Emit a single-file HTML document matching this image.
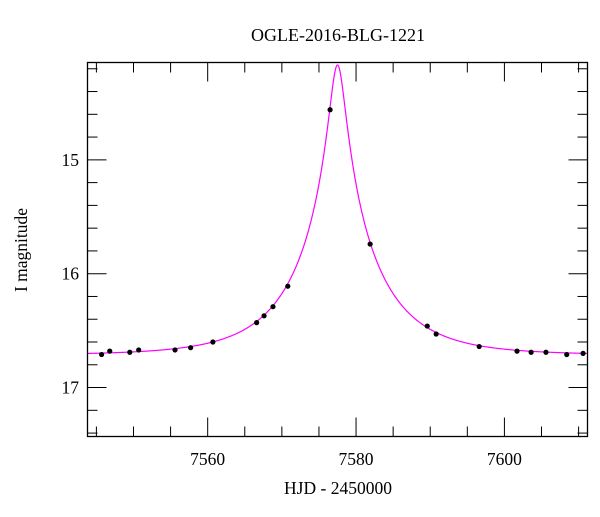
<!DOCTYPE html>
<html><head><meta charset="utf-8"><style>
html,body{margin:0;padding:0;background:#fff;}
svg text{font-family:"Liberation Serif",serif;fill:#000;}
</style></head><body>
<svg id="chart" width="600" height="512" xmlns="http://www.w3.org/2000/svg">
<text x="338" y="41" font-size="18" text-anchor="middle">OGLE-2016-BLG-1221</text>
<text x="338" y="494" font-size="17.5" text-anchor="middle">HJD - 2450000</text>
<text transform="translate(27,250) rotate(-90)" font-size="17.5" text-anchor="middle">I magnitude</text>
<g id="ticks"></g>
<g id="labels"></g>
<defs><clipPath id="clip"><rect x="87.5" y="62.5" width="500" height="374"/></clipPath></defs>
<path id="model" fill="none" stroke="#ff00ff" stroke-width="1.2" clip-path="url(#clip)"/>
<g id="points"></g>
<rect x="87.5" y="62.5" width="500" height="374" fill="none" stroke="#000" stroke-width="1.3"/>
</svg>
<script>
const obsTimes=[7545.7,7546.8,7549.5,7550.7,7555.6,7557.7,7560.7,7566.6,7567.6,7568.8,7570.8,7576.5,7581.9,7589.6,7590.8,7596.6,7601.7,7603.6,7605.6,7608.4,7610.6];
const obsMags=[16.71,16.68,16.69,16.67,16.67,16.65,16.60,16.43,16.37,16.29,16.11,14.56,15.74,16.46,16.53,16.64,16.68,16.69,16.69,16.71,16.70];
const xTickLabels=[7560,7580,7600];
const yTickLabels=[15,16,17];
const modelParams=[7577.5,0.096,10.5,16.715]; // t0, u0, tE, baseline mag

const NS="http://www.w3.org/2000/svg";
const x0=7543.8,x1=7611.2,px0=87.5,px1=587.5;
const y0=14.145,y1=17.43,py0=62.5,py1=436.5;
const X=t=>px0+(t-x0)/(x1-x0)*(px1-px0);
const Y=m=>py0+(m-y0)/(y1-y0)*(py1-py0);
const ticks=document.getElementById('ticks');
const labels=document.getElementById('labels');
function line(a,b,c,d,w){const l=document.createElementNS(NS,'line');
l.setAttribute('x1',a);l.setAttribute('y1',b);l.setAttribute('x2',c);l.setAttribute('y2',d);
l.setAttribute('stroke','#000');l.setAttribute('stroke-width',w);


ticks.appendChild(l);}
for(let t=7545;t<=7611;t+=5){const x=X(t);const maj=t%20===0;const L=maj?19:10;
line(x,py1,x,py1-L,1);line(x,py0,x,py0+L,1);}
for(let k=0;k<=16;k++){const m=14.2+k*0.2;if(m>y1)break;const y=Y(m);const maj=Math.abs(m-Math.round(m))<1e-6;const L=maj?19:10;
line(px0,y,px0+L,y,1);line(px1,y,px1-L,y,1);}
xTickLabels.forEach(v=>{const t=document.createElementNS(NS,'text');t.setAttribute('x',X(v));t.setAttribute('y',465);
t.setAttribute('font-size','17.5');t.setAttribute('text-anchor','middle');t.textContent=v;


labels.appendChild(t);});
yTickLabels.forEach(v=>{const t=document.createElementNS(NS,'text');t.setAttribute('x',79);t.setAttribute('y',Y(v)+6);
t.setAttribute('font-size','17.5');t.setAttribute('text-anchor','end');t.textContent=v;


labels.appendChild(t);});
const [t0,u0,tE,base]=modelParams;
function mag(t){const u=Math.sqrt(u0*u0+((t-t0)/tE)**2);const A=(u*u+2)/(u*Math.sqrt(u*u+4));return base-2.5*Math.log10(A);}
let d='';for(let i=0;i<=1500;i++){const t=x0+(x1-x0)*i/1500;d+=(i?'L':'M')+X(t).toFixed(2)+','+Y(mag(t)).toFixed(2);}
document.getElementById('model').setAttribute('d',d);
const pts=document.getElementById('points');
obsTimes.forEach((t,i)=>{const c=document.createElementNS(NS,'circle');c.setAttribute('cx',X(t));c.setAttribute('cy',Y(obsMags[i]));
c.setAttribute('r',2.6);c.setAttribute('fill','#000');


pts.appendChild(c);});
</script>
</body></html>
